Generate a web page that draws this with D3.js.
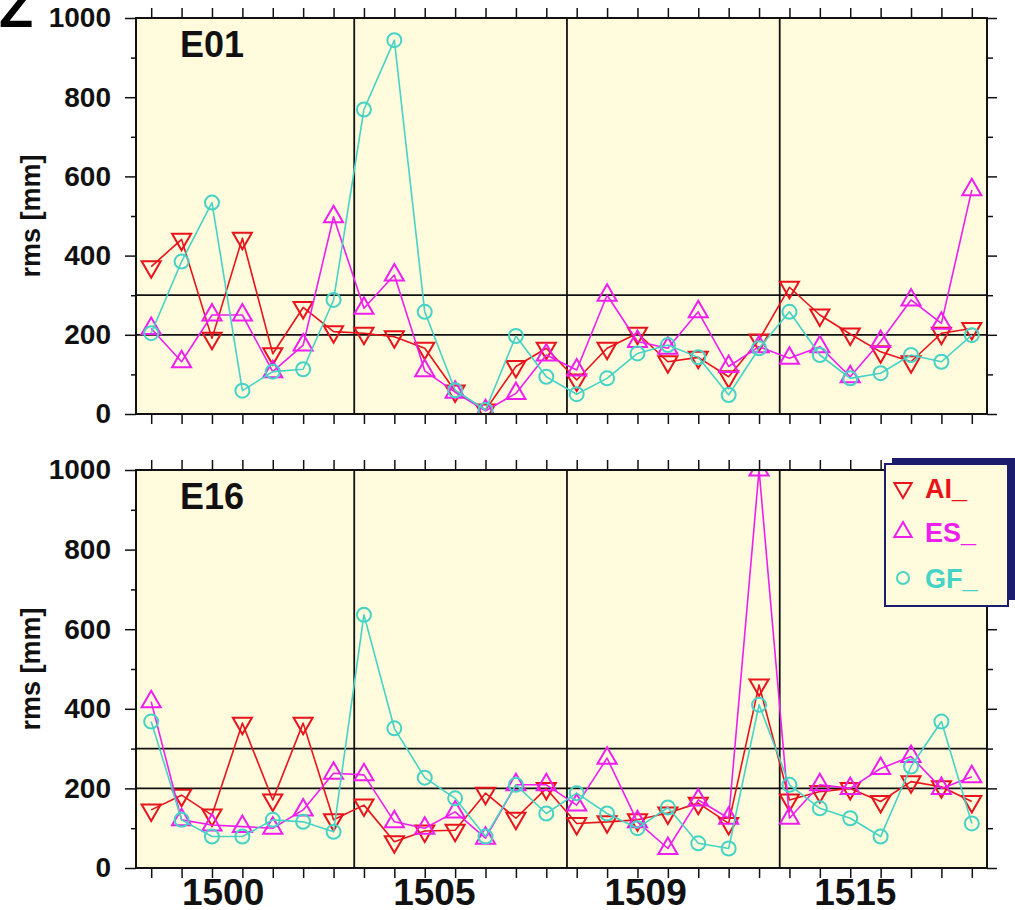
<!DOCTYPE html>
<html>
<head>
<meta charset="utf-8">
<script src="https://cdn.jsdelivr.net/npm/d3@7"></script>
<style>
  body { margin: 0; background: #fff; }
  svg { display: block; }
  text { font-family: "Liberation Sans", Arial, Helvetica, sans-serif; font-weight: bold; }
</style>
</head>
<body>
<svg id="chart" width="1015" height="910"></svg>
<script>
// ---- data -------------------------------------------------------------
// day index across the four GPS weeks shown (7 days each)
const days = [0,1,2,3,4,5,6,7,8,9,10,11,12,13,14,15,16,17,18,19,20,21,22,23,24,25,26,27];
const weekLabels = ["1500", "1505", "1509", "1515"];
const weekLabelDays = [2.35, 9.3, 16.25, 23.15];
const weekBreaks = [6.68, 13.68, 20.68];
const refLevels = [200, 300];
const yTicks = [0, 200, 400, 600, 800, 1000];
const yMinorTicks = [100, 300, 500, 700, 900];
const seriesNames = ["AI_", "ES_", "GF_"];

// rms [mm], satellite E01
const e01AI = [372,441,191,444,152,269,208,204,195,166,58,10,120,166,86,166,204,132,143,94,187,320,250,202,157,132,204,216];
const e01ES = [216,132,250,250,107,174,498,267,351,109,55,8,52,149,111,300,183,166,258,120,170,141,170,94,183,288,229,566];
const e01GF = [204,385,534,59,107,113,288,769,944,258,60,10,197,94,50,90,153,174,143,48,166,258,149,90,103,149,132,199];

// rms [mm], satellite E16
const e16AI = [146,183,133,364,171,364,121,158,66,93,95,188,125,200,112,116,121,138,163,112,460,171,192,200,167,217,204,167];
const e16ES = [418,121,108,104,100,146,238,234,116,100,141,75,209,209,158,276,116,49,171,125,1000,125,209,200,250,280,200,229];
const e16GF = [368,121,79,79,121,116,91,636,351,227,175,79,209,137,188,137,100,152,62,49,410,209,150,125,79,255,368,112];

// ---- styling ----------------------------------------------------------
const colors = ["#e8131b", "#ee1fee", "#46d3c6"];
const symbols = ["down", "up", "circle"];
const plotFill = "#fffbdc";
const navy = "#1c1c6e";

const svg = d3.select("#chart");
const left = 136, right = 987;

const panels = [
  { name: "E01", top: 18, bottom: 414, series: [e01AI, e01ES, e01GF] },
  { name: "E16", top: 470, bottom: 868, series: [e16AI, e16ES, e16GF] }
];

const x = d3.scaleLinear().domain([-0.5, 27.5]).range([left, right]);

// hollow marker outlines: inverted triangle, triangle, circle
function markerPath(kind, r) {
  if (kind === "circle") return `M${r},0A${r},${r} 0 1,1 ${-r},0A${r},${r} 0 1,1 ${r},0Z`;
  const s = r * Math.sqrt(3) / 2;
  if (kind === "up") return `M0,${-r}L${s},${r / 2}L${-s},${r / 2}Z`;
  return `M0,${r}L${s},${-r / 2}L${-s},${-r / 2}Z`;
}

// cut-off figure letter in the corner
svg.append("text")
  .attr("x", -1).attr("y", 27)
  .attr("font-size", 56)
  .attr("fill", "#000")
  .text("Z");

const boldText = s => s.selectAll("text").attr("fill", "#111")
  .style("font-family", "'Liberation Sans', Arial, sans-serif").style("font-weight", "bold");

panels.forEach((p, pi) => {
  const y = d3.scaleLinear().domain([0, 1000]).range([p.bottom, p.top]);
  const g = svg.append("g");

  const clipId = "clip" + pi;
  svg.append("clipPath").attr("id", clipId)
    .append("rect")
    .attr("x", left).attr("y", p.top)
    .attr("width", right - left).attr("height", p.bottom - p.top);

  // plot background
  g.append("rect")
    .attr("x", left).attr("y", p.top)
    .attr("width", right - left).attr("height", p.bottom - p.top)
    .attr("fill", plotFill);

  // reference levels
  g.selectAll(".ref").data(refLevels).enter().append("line")
    .attr("x1", left).attr("x2", right)
    .attr("y1", d => y(d)).attr("y2", d => y(d))
    .attr("stroke", "#111").attr("stroke-width", 1.8);

  // week separators
  g.selectAll(".wk").data(weekBreaks).enter().append("line")
    .attr("x1", d => x(d)).attr("x2", d => x(d))
    .attr("y1", p.top).attr("y2", p.bottom)
    .attr("stroke", "#111").attr("stroke-width", 1.8);

  // series
  const plot = g.append("g").attr("clip-path", `url(#${clipId})`);
  p.series.forEach((vals, si) => {
    const line = d3.line().x((d, i) => x(days[i])).y(d => y(d));
    plot.append("path")
      .attr("d", line(vals))
      .attr("fill", "none")
      .attr("stroke", colors[si])
      .attr("stroke-width", 1.6)
      .attr("stroke-linejoin", "round");
    const r = symbols[si] === "circle" ? 7 : 11;
    plot.selectAll(null).data(vals).enter().append("path")
      .attr("transform", (d, i) => `translate(${x(days[i])},${y(d)})`)
      .attr("d", markerPath(symbols[si], r))
      .attr("fill", "none")
      .attr("stroke", colors[si])
      .attr("stroke-width", 2);
  });

  // frame
  g.append("rect")
    .attr("x", left).attr("y", p.top)
    .attr("width", right - left).attr("height", p.bottom - p.top)
    .attr("fill", "none").attr("stroke", "#111").attr("stroke-width", 2);

  // axes
  const axisStyle = sel => {
    sel.select(".domain").remove();
    sel.selectAll(".tick line").attr("stroke", "#111").attr("stroke-width", 1.5);
  };

  g.append("g").attr("transform", `translate(${left},0)`)
    .call(d3.axisLeft(y).tickValues(yTicks).tickSize(11).tickPadding(14).tickFormat(d3.format("d")))
    .call(axisStyle)
    .call(boldText)
    .call(s => s.selectAll("text").attr("font-size", 28));

  g.append("g").attr("transform", `translate(${left},0)`)
    .call(d3.axisLeft(y).tickValues(yMinorTicks).tickSize(5).tickFormat(""))
    .call(axisStyle);

  g.append("g").attr("transform", `translate(${right},0)`)
    .call(d3.axisRight(y).tickValues(yTicks).tickSize(10).tickFormat(""))
    .call(axisStyle);
  g.append("g").attr("transform", `translate(${right},0)`)
    .call(d3.axisRight(y).tickValues(yMinorTicks).tickSize(6).tickFormat(""))
    .call(axisStyle);

  g.append("g").attr("transform", `translate(0,${p.top})`)
    .call(d3.axisTop(x).tickValues(days).tickSize(10).tickFormat(""))
    .call(axisStyle);
  g.append("g").attr("transform", `translate(0,${p.bottom})`)
    .call(d3.axisBottom(x).tickValues(days).tickSize(10).tickFormat(""))
    .call(axisStyle);

  // y label
  g.append("text")
    .attr("transform", `translate(40,${(p.top + p.bottom) / 2}) rotate(-90)`)
    .attr("text-anchor", "middle")
    .attr("font-size", 27)
    .attr("fill", "#111")
    .text("rms [mm]");

  // panel title
  g.append("text")
    .attr("x", 180).attr("y", p.top + 39)
    .attr("font-size", 36)
    .attr("fill", "#111")
    .text(p.name);

  // week labels under the lower panel
  if (pi === panels.length - 1) {
    g.append("g").attr("transform", `translate(0,${p.bottom})`)
      .call(d3.axisBottom(x).tickValues(weekLabelDays).tickSize(0).tickPadding(11)
        .tickFormat((d, i) => weekLabels[i]))
      .call(s => s.select(".domain").remove())
      .call(boldText)
      .call(s => s.selectAll("text").attr("font-size", 37));
  }
});

// legend
const lg = svg.append("g");
lg.append("rect")
  .attr("x", 892).attr("y", 458).attr("width", 130).attr("height", 142)
  .attr("fill", navy);
lg.append("rect")
  .attr("x", 885).attr("y", 464).attr("width", 123).attr("height", 142)
  .attr("fill", plotFill).attr("stroke", navy).attr("stroke-width", 2);
const legendRowY = [488, 532, 578];
seriesNames.forEach((name, i) => {
  const r = symbols[i] === "circle" ? 6 : 10;
  lg.append("path")
    .attr("transform", `translate(903,${legendRowY[i]})`)
    .attr("d", markerPath(symbols[i], r))
    .attr("fill", "none").attr("stroke", colors[i]).attr("stroke-width", 2);
  lg.append("text")
    .attr("x", 925).attr("y", legendRowY[i] + 10)
    .attr("font-size", 27)
    .attr("fill", colors[i])
    .text(name);
});
</script>
</body>
</html>
